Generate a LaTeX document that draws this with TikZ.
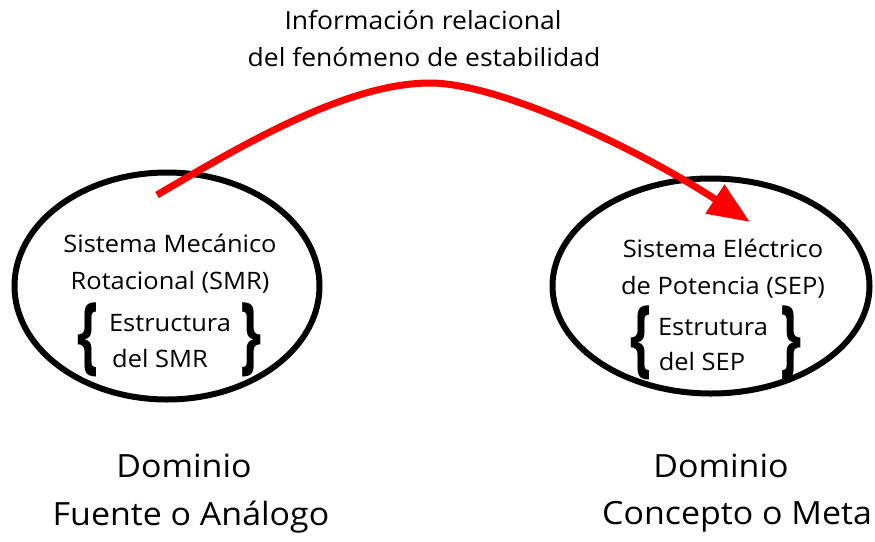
\documentclass[tikz,border=0pt]{standalone}
\usepackage{fontspec}
\setmainfont[FakeStretch=1.06]{Open Sans}
\usetikzlibrary{shapes.geometric,arrows.meta}
\tikzset{
  ellbox/.style={draw=black, line width=6pt, ellipse, inner sep=0pt},
  lbl/.style={inner sep=0pt, anchor=center, font=\fontsize{24}{28}\selectfont},
  toplbl/.style={inner sep=0pt, anchor=center, font=\fontsize{25}{30}\selectfont},
  domlbl/.style={inner sep=0pt, anchor=center, font=\fontsize{32}{38}\selectfont},
  brace/.style={inner sep=0pt, anchor=center, font=\fontsize{46}{50}\bfseries\selectfont},
  relarrow/.style={draw=red, line width=7pt, -{Triangle[length=42pt,width=33pt]}}
}
\newcommand{\tallbrace}[1]{\scalebox{1.1}[1.85]{#1}}
\begin{document}
\begin{tikzpicture}[x=1pt,y=-1pt]
\useasboundingbox (0,0) rectangle (875,541);
\fill[white] (0,0) rectangle (875,541);
% ellipses
\node[ellbox, minimum width=305pt, minimum height=227pt] (ellL) at (167,286) {};
\node[ellbox, minimum width=317pt, minimum height=215pt] (ellR) at (711,286) {};
% left texts
\node[lbl] (l1) at (170,243) {Sistema Mecánico};
\node[lbl] (l2) at (170,282) {Rotacional (SMR)};
\node[lbl] (l3) at (170,323) {Estructura};
\node[lbl] (l4) at (160,358) {del SMR};
\node[brace] (lb1) at (88,340) {\tallbrace{\{}};
\node[brace] (lb2) at (251,340) {\tallbrace{\}}};
% right texts
\node[lbl] (r1) at (723,248) {Sistema Eléctrico};
\node[lbl] (r2) at (723,287) {de Potencia (SEP)};
\node[lbl] (r3) at (713,327) {Estrutura};
\node[lbl] (r4) at (702,361) {del SEP};
\node[brace] (rb1) at (641,343) {\tallbrace{\{}};
\node[brace] (rb2) at (791,343) {\tallbrace{\}}};
% top text
\node[toplbl] (t1) at (423,20) {Información relacional};
\node[toplbl] (t2) at (424,57) {del fenómeno de estabilidad};
% bottom text
\node[domlbl] (d1) at (184,466) {Dominio};
\node[domlbl] (d2) at (191,517) {Fuente o Análogo};
\node[domlbl] (d3) at (721,466) {Dominio};
\node[domlbl] (d4) at (737,517) {Concepto o Meta};
% arrow
\coordinate (s) at (157,195);
\coordinate (p) at (430,83);
\coordinate (e) at (750,222);
\draw[relarrow] (s) .. controls (250,140) and (350,83) .. (p) .. controls (500,83) and (640,150) .. (e);
\end{tikzpicture}
\end{document}
